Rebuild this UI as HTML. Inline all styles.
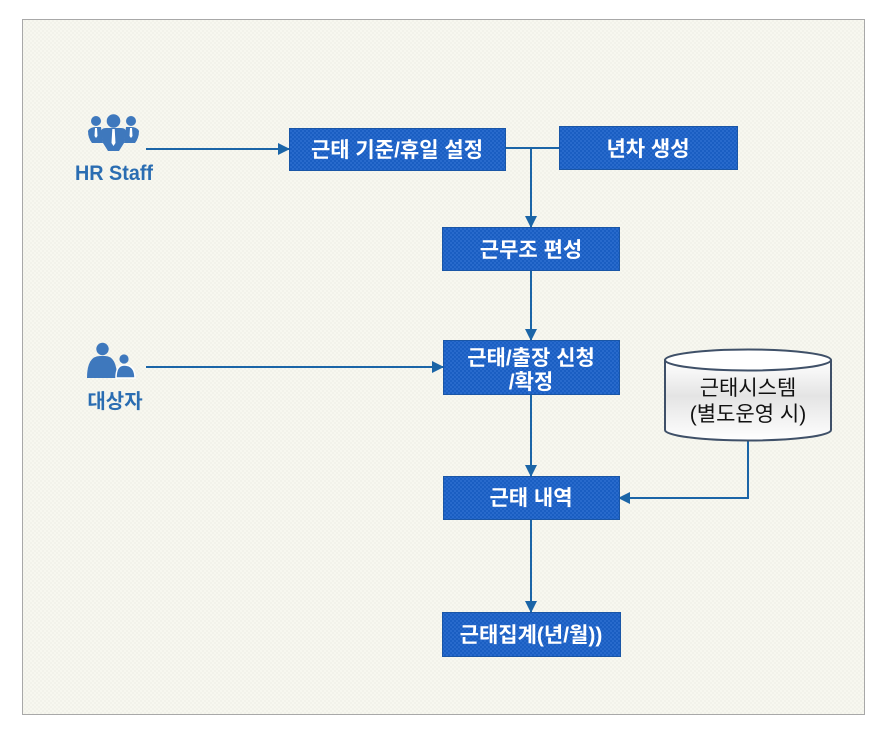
<!DOCTYPE html>
<html><head><meta charset="utf-8"><style>
html,body{margin:0;padding:0;background:#fff;}
svg{display:block;}
</style></head><body>
<svg width="891" height="740" viewBox="0 0 891 740" xmlns="http://www.w3.org/2000/svg">
<defs>
<pattern id="bg" width="4" height="4" patternUnits="userSpaceOnUse">
<rect width="4" height="4" fill="#f7f7ef"/>
<rect width="2" height="2" fill="#f2f2ea"/>
<rect x="2" y="2" width="2" height="2" fill="#f2f2ea"/>
</pattern>
<pattern id="bx" width="4" height="4" patternUnits="userSpaceOnUse">
<rect width="4" height="4" fill="#1a5ec2"/>
<rect width="2" height="2" fill="#286acc"/>
<rect x="2" y="2" width="2" height="2" fill="#286acc"/>
</pattern>
<linearGradient id="cyl" x1="0" y1="0" x2="0" y2="1">
<stop offset="0" stop-color="#ffffff"/>
<stop offset="0.45" stop-color="#e4e4e4"/>
<stop offset="1" stop-color="#ffffff"/>
</linearGradient>
<marker id="ah" markerWidth="12" markerHeight="12" refX="11" refY="6" orient="auto" markerUnits="userSpaceOnUse">
<path d="M0,0 L12,6 L0,12 z" fill="#1b65a7"/>
</marker>
</defs>
<rect x="22.5" y="19.5" width="842" height="695" fill="url(#bg)" stroke="#a8a8a8" stroke-width="1"/>

<!-- connectors -->
<g stroke="#1b65a7" stroke-width="2" fill="none">
<line x1="146" y1="149" x2="289" y2="149" marker-end="url(#ah)"/>
<line x1="505" y1="148" x2="559" y2="148"/>
<line x1="531" y1="148" x2="531" y2="227" marker-end="url(#ah)"/>
<line x1="531" y1="270" x2="531" y2="340" marker-end="url(#ah)"/>
<line x1="146" y1="367" x2="443" y2="367" marker-end="url(#ah)"/>
<line x1="531" y1="394" x2="531" y2="476" marker-end="url(#ah)"/>
<polyline points="748,440 748,498 619,498" marker-end="url(#ah)"/>
<line x1="531" y1="519" x2="531" y2="612" marker-end="url(#ah)"/>
</g>

<!-- boxes -->
<g stroke="#1a56a6" stroke-width="1" fill="url(#bx)">
<rect x="289.5" y="128.5" width="216" height="42"/>
<rect x="559.5" y="126.5" width="178" height="43"/>
<rect x="442.5" y="227.5" width="177" height="43"/>
<rect x="443.5" y="340.5" width="176" height="54"/>
<rect x="443.5" y="476.5" width="176" height="43"/>
<rect x="442.5" y="612.5" width="178" height="44"/>
</g>
<g font-family="'Liberation Sans','Noto Sans CJK KR',sans-serif" font-weight="bold" font-size="21" fill="#ffffff" text-anchor="middle">
<text x="397" y="157">근태 기준/휴일 설정</text>
<text x="648" y="156">년차 생성</text>
<text x="531" y="257">근무조 편성</text>
<text x="531" y="365">근태/출장 신청</text>
<text x="531" y="389">/확정</text>
<text x="531" y="505">근태 내역</text>
<text x="531" y="642">근태집계(년/월))</text>
</g>

<!-- cylinder -->
<path d="M665,360 L665,430 A83,10.5 0 0 0 831,430 L831,360" fill="url(#cyl)" stroke="#3f5068" stroke-width="2"/>
<ellipse cx="748" cy="360" rx="83" ry="10.5" fill="#ffffff" stroke="#3f5068" stroke-width="2"/>
<g font-family="'Liberation Sans','Noto Sans CJK KR',sans-serif" font-size="21" fill="#111" text-anchor="middle">
<text x="748" y="395">근태시스템</text>
<text x="748" y="421">(별도운영 시)</text>
</g>

<!-- HR staff icon -->
<g fill="#3e78bd">
<circle cx="96" cy="121" r="5"/>
<circle cx="131" cy="121" r="5"/>
<path d="M88,131 Q90,127 96,127 L101,127 L103,143 L92,143 Q88,138 88,131 z"/>
<path d="M139,131 Q137,127 131,127 L126,127 L124,143 L135,143 Q139,138 139,131 z"/>
<circle cx="113.5" cy="121" r="6.8"/>
<path d="M101,132 Q101,128 106,128 L121,128 Q126,128 126,132 L124,143 L119,151 L108,151 L103,143 z"/>
</g>
<g fill="#ffffff">
<path d="M112.3,129 L114.7,129 L115.5,143 L113.5,146 L111.5,143 z"/>
<path d="M95,128 L97,128 L97.5,136 L96,138 L94.5,136 z"/>
<path d="M130,128 L132,128 L132.5,136 L131,138 L129.5,136 z"/>
</g>
<text x="114" y="180" font-family="'Liberation Sans',sans-serif" font-weight="bold" font-size="21" fill="#2a6db2" text-anchor="middle" textLength="78" lengthAdjust="spacingAndGlyphs">HR Staff</text>

<!-- 대상자 icon -->
<g fill="#3e78bd">
<circle cx="102.5" cy="349" r="6.2"/>
<path d="M87,378 Q87,356 100,356 L105,356 Q117,356 117,378 z"/>
<circle cx="124" cy="359" r="4.6"/>
<path d="M116,378 Q116,365 124,365 Q135,365 135,378 z" stroke="#ffffff" stroke-width="1.5"/>
</g>
<text x="115" y="408" font-family="'Liberation Sans','Noto Sans CJK KR',sans-serif" font-weight="bold" font-size="20" fill="#2a6db2" text-anchor="middle">대상자</text>
</svg>
</body></html>
